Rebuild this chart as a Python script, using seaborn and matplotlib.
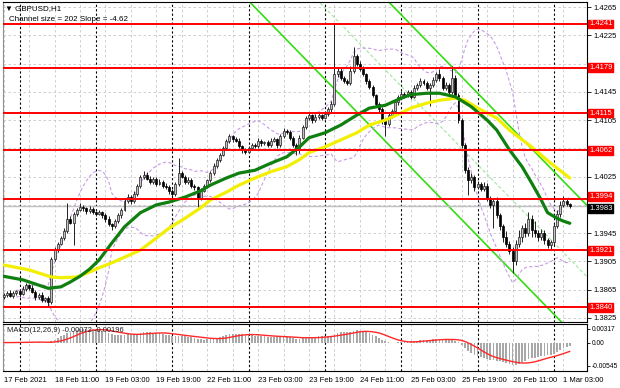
import numpy as np
import pandas as pd
import matplotlib
matplotlib.use("Agg")
import matplotlib.pyplot as plt
import matplotlib.transforms as mtransforms
import seaborn as sns

# ---------------- data ----------------
first_open = 1.3855
closes = [
    1.3858, 1.3861, 1.3856, 1.3860, 1.3863, 1.3859, 1.3866, 1.3871, 1.3868, 1.3862,
    1.3855, 1.3858, 1.3850, 1.3853, 1.3848, 1.3908, 1.3922, 1.3930, 1.3938, 1.3948,
    1.3965, 1.3960, 1.3972, 1.3978, 1.3982, 1.3980, 1.3976, 1.3979, 1.3975, 1.3972,
    1.3975, 1.3970, 1.3965, 1.3958, 1.3955, 1.3962, 1.3970, 1.3978, 1.3990, 1.3996,
    1.3990, 1.4000, 1.4012, 1.4025, 1.4028, 1.4022, 1.4018, 1.4022, 1.4015, 1.4018,
    1.4012, 1.4010, 1.4005, 1.4000, 1.4015, 1.4030, 1.4025, 1.4018, 1.4020, 1.4012,
    1.4010, 1.3995, 1.4005, 1.4012, 1.4020, 1.4030, 1.4040, 1.4048, 1.4056, 1.4065,
    1.4075, 1.4082, 1.4078, 1.4076, 1.4068, 1.4062, 1.4060, 1.4066, 1.4070, 1.4068,
    1.4075, 1.4072, 1.4074, 1.4070, 1.4076, 1.4078, 1.4070, 1.4082, 1.4090, 1.4088,
    1.4080, 1.4070, 1.4062, 1.4080, 1.4095, 1.4108, 1.4112, 1.4105, 1.4110, 1.4112,
    1.4108, 1.4114, 1.4120, 1.4128, 1.4170, 1.4175, 1.4165, 1.4160, 1.4158, 1.4175,
    1.4195, 1.4185, 1.4178, 1.4170, 1.4160, 1.4152, 1.4140, 1.4128, 1.4120, 1.4105,
    1.4100, 1.4112, 1.4118, 1.4130, 1.4138, 1.4142, 1.4140, 1.4145, 1.4138, 1.4150,
    1.4155, 1.4160, 1.4158, 1.4150, 1.4155, 1.4162, 1.4170, 1.4165, 1.4150, 1.4155,
    1.4145, 1.4165, 1.4140, 1.4105, 1.4070, 1.4035, 1.4020, 1.4025, 1.4010, 1.4015,
    1.4008, 1.4012, 1.3995, 1.3985, 1.3990, 1.3970, 1.3955, 1.3940, 1.3930, 1.3920,
    1.3905, 1.3930, 1.3940, 1.3952, 1.3945, 1.3965, 1.3950, 1.3945, 1.3940, 1.3945,
    1.3935, 1.3928, 1.3932, 1.3955, 1.3972, 1.3985, 1.3990, 1.3986, 1.3983,
]
upper_wick_pips = [
    3, 2, 4, 3, 2, 3, 4, 3, 2, 3,
    3, 2, 4, 2, 3, 3, 4, 2, 3, 5,
    23, 4, 3, 3, 5, 3, 2, 4, 3, 2,
    3, 2, 3, 4, 2, 3, 4, 3, 5, 4,
    3, 4, 3, 2, 5, 3, 4, 2, 3, 3,
    2, 4, 3, 2, 3, 22, 3, 2, 4, 3,
    3, 2, 4, 3, 2, 3, 4, 3, 2, 3,
    3, 4, 2, 3, 3, 2, 4, 3, 2, 3,
    4, 3, 2, 3, 4, 3, 2, 3, 4, 3,
    3, 2, 3, 4, 3, 3, 4, 2, 3, 3,
    2, 3, 3, 4, 73, 5, 4, 3, 3, 6,
    13, 4, 3, 3, 2, 3, 3, 2, 3, 3,
    3, 4, 3, 3, 2, 4, 3, 3, 2, 4,
    3, 4, 3, 3, 2, 4, 3, 8, 3, 4,
    3, 17, 4, 3, 3, 3, 4, 5, 3, 4,
    3, 5, 4, 3, 4, 6, 4, 3, 8, 4,
    5, 6, 10, 4, 8, 10, 5, 12, 4, 6,
    4, 3, 4, 5, 6, 5, 7, 3, 2,
]
lower_wick_pips = [
    3, 4, 2, 3, 3, 4, 2, 3, 3, 2,
    4, 3, 3, 2, 8, 3, 2, 3, 2, 3,
    3, 2, 32, 3, 2, 3, 4, 2, 3, 3,
    2, 3, 4, 3, 5, 3, 2, 3, 2, 3,
    4, 3, 2, 3, 3, 2, 3, 4, 3, 2,
    3, 2, 4, 3, 3, 3, 2, 4, 3, 3,
    4, 13, 3, 2, 3, 3, 2, 3, 3, 2,
    3, 3, 4, 2, 3, 4, 3, 2, 3, 3,
    3, 4, 2, 3, 3, 2, 4, 3, 2, 3,
    3, 3, 6, 3, 2, 3, 3, 4, 2, 3,
    3, 2, 3, 3, 3, 4, 3, 3, 4, 3,
    3, 4, 3, 3, 4, 3, 3, 4, 3, 5,
    18, 3, 4, 3, 3, 2, 4, 3, 3, 2,
    3, 3, 4, 3, 25, 3, 3, 4, 3, 3,
    4, 3, 3, 4, 4, 5, 21, 4, 5, 3,
    4, 3, 4, 5, 33, 4, 5, 8, 5, 4,
    17, 5, 4, 8, 6, 4, 10, 5, 6, 4,
    5, 4, 5, 4, 3, 4, 3, 3, 2,
]

green_ma_bars = [0, 6, 14, 18, 21, 24, 27, 30, 34, 38, 43, 48, 52, 57, 62, 65, 70, 74, 79, 84,
                 89, 93, 96, 101, 106, 111, 115, 120, 125, 128, 133, 137, 142, 147, 152, 155,
                 159, 163, 166, 169, 171, 174, 176, 178]
green_ma = [1.3884, 1.3879, 1.3867, 1.3869, 1.3876, 1.3884, 1.3894, 1.3907, 1.3931, 1.3954,
            1.3974, 1.3985, 1.3989, 1.3996, 1.4005, 1.4013, 1.4023, 1.4030, 1.4034, 1.4044,
            1.4053, 1.4067, 1.4080, 1.4087, 1.4098, 1.4112, 1.4122, 1.4126, 1.4136, 1.4141,
            1.4143, 1.4143, 1.4138, 1.4124, 1.4105, 1.4091, 1.4063, 1.4039, 1.4016, 1.3992,
            1.3974, 1.3966, 1.3962, 1.3959]
yellow_ma_bars = [0, 8, 15, 18, 23, 27, 30, 34, 38, 43, 48, 52, 57, 62, 65, 70, 74, 79, 84, 89,
                  93, 96, 101, 106, 111, 115, 120, 125, 128, 133, 137, 142, 145, 149, 155, 159,
                  166, 172, 178]
yellow_ma = [1.3900, 1.3893, 1.3883, 1.3882, 1.3883, 1.3890, 1.3896, 1.3903, 1.3911, 1.3921,
             1.3938, 1.3952, 1.3966, 1.3981, 1.3992, 1.4003, 1.4013, 1.4023, 1.4032, 1.4039,
             1.4049, 1.4059, 1.4067, 1.4077, 1.4087, 1.4098, 1.4105, 1.4115, 1.4122, 1.4129,
             1.4133, 1.4136, 1.4133, 1.4122, 1.4108, 1.4091, 1.4067, 1.4044, 1.4023]

levels = [1.4241, 1.4179, 1.4115, 1.4062, 1.3994, 1.3921, 1.3840]
current_price = 1.3983

channel_anchor_bar = 146
channel_anchor_price = 1.3955     # lower channel line
channel_slope = -0.000462         # -4.62 pips per bar
channel_size = 0.0202             # 202 pips

price_ticks = [1.3825, 1.3865, 1.3905, 1.3945, 1.3985, 1.4025, 1.4065, 1.4105, 1.4145,
               1.4185, 1.4225, 1.4265]
price_tick_labels = ["1.3825", "1.3865", "1.3905", "1.3945", "", "1.4025", "", "1.4105",
                     "1.4145", "", "1.4225", "1.4265"]
macd_ticks = [0.00317, 0.0, -0.00545]
macd_tick_labels = ["0.00317", "0.00", "-0.00545"]
time_tick_bars = [0, 16, 32, 48, 64, 80, 96, 112, 128, 144, 160, 176]
time_tick_labels = ["17 Feb 2021", "18 Feb 11:00", "19 Feb 03:00", "19 Feb 19:00",
                    "22 Feb 11:00", "23 Feb 03:00", "23 Feb 19:00", "24 Feb 11:00",
                    "25 Feb 03:00", "25 Feb 19:00", "26 Feb 11:00", "1 Mar 03:00"]
day_start_bars = [5, 29, 53, 77, 101, 125, 149, 173]

# ---------------- derived ----------------
n = len(closes)
idx = np.arange(n)
c = np.array(closes)
o = np.array([first_open] + closes[:-1])
hi = np.maximum(o, c) + np.array(upper_wick_pips) * 1e-4
lo = np.minimum(o, c) - np.array(lower_wick_pips) * 1e-4
s = pd.Series(c)
bb_mid = s.rolling(20, min_periods=5).mean()
bb_sd = s.rolling(20, min_periods=5).std(ddof=0)
bb_up = bb_mid + 2 * bb_sd
bb_lo = bb_mid - 2 * bb_sd
macd = s.ewm(span=12, adjust=False).mean() - s.ewm(span=26, adjust=False).mean()
signal = macd.rolling(9, min_periods=1).mean()

# ---------------- figure ----------------
sns.set_style("white")
plt.rcParams['font.family'] = ['Liberation Sans', 'DejaVu Sans']
W, H = 620, 388
fig = plt.figure(figsize=(W / 100, H / 100), dpi=100)
ax = fig.add_axes([3 / W, 1 - 322 / H, 584 / W, 320 / H])
axm = fig.add_axes([3 / W, 1 - 370.5 / H, 584 / W, 46.5 / H])
xlim = (-0.2, 183.4)
FS = 5.5

for a in (ax, axm):
    a.set_xlim(*xlim)
    a.set_facecolor("white")
    for sp in a.spines.values():
        sp.set_color("black")
        sp.set_linewidth(0.8)
    a.spines["left"].set_color("#909090")
    for b in range(0, 184, 8):
        a.axvline(b, color="#c8c8c8", lw=0.6, ls=(0, (3, 3)), zorder=0)
    for b in day_start_bars:
        a.axvline(b, color="black", lw=0.8, ls=(0, (2, 2)), zorder=1)

ax.set_ylim(1.38193, 1.42721)
for p in price_ticks:
    ax.axhline(p, color="#c8c8c8", lw=0.6, ls=(0, (3, 3)), zorder=0)

# channel
cx = np.array(xlim)
ch_lo = channel_anchor_price + channel_slope * (cx - channel_anchor_bar)
ax.plot(cx, ch_lo, color="#33dd11", lw=1.2, zorder=2)
ax.plot(cx, ch_lo + channel_size, color="#33dd11", lw=1.2, zorder=2)
ax.plot(cx, ch_lo + channel_size / 2, color="#9be89b", lw=0.8, ls=(0, (3, 2)), zorder=2)

# bollinger bands
ax.plot(idx, bb_up, color="#c89be6", lw=0.8, ls=(0, (3, 2)), zorder=2)
ax.plot(idx, bb_lo, color="#c89be6", lw=0.8, ls=(0, (3, 2)), zorder=2)

# current price line
ax.axhline(current_price, color="#c0c0c0", lw=1.0, zorder=2)

# candles
up = c >= o
body_b = np.minimum(o, c)
body_h = np.maximum(np.abs(c - o), 0.00006)
ax.vlines(idx, lo, hi, color="#202020", lw=0.7, zorder=3)
ax.bar(idx[up], body_h[up], bottom=body_b[up], width=0.62, color="#c4c4c4",
       edgecolor="#202020", linewidth=0.5, zorder=4)
ax.bar(idx[~up], body_h[~up], bottom=body_b[~up], width=0.62, color="black",
       edgecolor="black", linewidth=0.5, zorder=4)

# moving averages
sns.lineplot(x=yellow_ma_bars, y=yellow_ma, ax=ax, color="#f2f000", lw=2.3, zorder=5)
sns.lineplot(x=green_ma_bars, y=green_ma, ax=ax, color="#0f7f0f", lw=2.3, zorder=6)

# level lines
for lv in levels:
    ax.axhline(lv, color="#ff0000", lw=1.4, zorder=7)

# right axis
ax.yaxis.tick_right()
ax.set_yticks(price_ticks)
ax.set_yticklabels(price_tick_labels)
ax.tick_params(axis="y", labelsize=FS, length=3, pad=2, colors="black", width=0.6)
ax.tick_params(axis="x", bottom=False, labelbottom=False)
ax.set_xlabel("")
ax.set_ylabel("")

trans = mtransforms.blended_transform_factory(ax.transAxes, ax.transData)
label_offsets = {1.3994: 1.5}
for lv in levels:
    ax.annotate(f"{lv:.4f}", xy=(1.0035, lv), xycoords=trans,
                xytext=(0, label_offsets.get(lv, 0)), textcoords="offset points",
                ha="left", va="center", fontsize=FS, color="white", zorder=10,
                annotation_clip=False,
                bbox=dict(boxstyle="square,pad=0.12", fc="#ff0000", ec="#ff0000"))
ax.annotate(f"{current_price:.4f}", xy=(1.0035, current_price), xycoords=trans,
            xytext=(0, -1.5), textcoords="offset points", ha="left", va="center",
            fontsize=FS, color="white", zorder=10, annotation_clip=False,
            bbox=dict(boxstyle="square,pad=0.12", fc="black", ec="black"))

ax.text(0.004, 0.992, "\u25bc GBPUSD,H1", transform=ax.transAxes, ha="left", va="top",
        fontsize=FS + 0.3, color="black", zorder=11)
ax.text(0.010, 0.955, "Channel size = 202 Slope = -4.62", transform=ax.transAxes,
        ha="left", va="top", fontsize=FS + 0.3, color="black", zorder=11)

# MACD panel
axm.set_ylim(-0.0065, 0.00433)
axm.bar(idx, macd, width=0.55, color="#a8a8a8", linewidth=0, zorder=3)
sns.lineplot(x=idx, y=signal, ax=axm, color="#ff2828", lw=1.0, zorder=4)
axm.yaxis.tick_right()
axm.set_yticks(macd_ticks)
axm.set_yticklabels(macd_tick_labels)
axm.tick_params(axis="y", labelsize=4.8, length=2.5, pad=1, colors="black", width=0.6)
axm.set_xticks(time_tick_bars)
axm.set_xticklabels(time_tick_labels, ha="left")
axm.tick_params(axis="x", labelsize=FS, length=3, pad=2, colors="black", width=0.6)
axm.set_xlabel("")
axm.set_ylabel("")
axm.text(0.006, 0.93, "MACD(12,26,9) -0.00072 -0.00196", transform=axm.transAxes,
         ha="left", va="top", fontsize=FS, color="#202020", zorder=11)

fig.savefig("out.png", dpi=100)
